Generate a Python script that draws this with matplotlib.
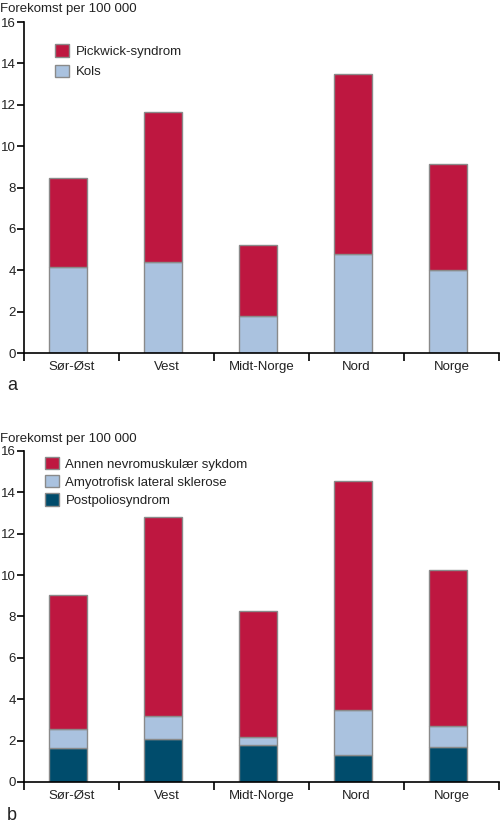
import numpy as np
import matplotlib
matplotlib.use('Agg')
import matplotlib.pyplot as plt
from matplotlib.ticker import FixedLocator

plt.rcParams['font.family'] = ['Liberation Sans', 'DejaVu Sans']
plt.rcParams['text.color'] = '#222222'

regions = ['Sør-Øst', 'Vest', 'Midt-Norge', 'Nord', 'Norge']

# panel a
kols = [4.15, 4.4, 1.8, 4.8, 4.0]
pickwick_total = [8.45, 11.65, 5.2, 13.5, 9.15]
pickwick = [t - k for t, k in zip(pickwick_total, kols)]

# panel b
postpolio = [1.65, 2.1, 1.8, 1.3, 1.7]
als_top = [2.55, 3.2, 2.15, 3.5, 2.7]
annen_total = [9.05, 12.8, 8.25, 14.55, 10.25]
als = [a - p for a, p in zip(als_top, postpolio)]
annen = [t - a for t, a in zip(annen_total, als_top)]

RED = '#BE1740'
LIGHT = '#AAC2DF'
DARK = '#004C6C'
EDGE = '#8a8a8a'

fig = plt.figure(figsize=(5, 8.24), dpi=100)
ax_a = fig.add_axes([0.048, 0.5716, 0.95, 0.4017])
ax_b = fig.add_axes([0.048, 0.051, 0.95, 0.4017])

x = np.arange(len(regions))
w = 0.4


def style(ax):
    ax.set_xlim(-0.5, len(regions) - 0.5)
    ax.set_ylim(0, 16)
    ax.set_yticks(range(0, 17, 2))
    ax.spines['top'].set_visible(False)
    ax.spines['right'].set_visible(False)
    ax.spines['left'].set_linewidth(1.2)
    ax.spines['bottom'].set_linewidth(1.2)
    ax.set_xticks(x)
    ax.set_xticklabels(regions, fontsize=9.5, color='#222222')
    ax.tick_params(axis='x', which='major', length=0, pad=6)
    ax.xaxis.set_minor_locator(FixedLocator(np.arange(-0.5, len(regions), 1)))
    ax.tick_params(axis='x', which='minor', length=6, width=1.2, direction='out')
    ax.tick_params(axis='y', length=5, width=1.2, pad=1, labelsize=9.5,
                   labelcolor='#222222')


bx = x - 0.04
ax_a.bar(bx, kols, w, color=LIGHT, edgecolor=EDGE, linewidth=1, label='Kols')
ax_a.bar(bx, pickwick, w, bottom=kols, color=RED, edgecolor=EDGE, linewidth=1,
         label='Pickwick-syndrom')
style(ax_a)
h, l = ax_a.get_legend_handles_labels()
ax_a.legend(h[::-1], l[::-1], loc='upper left', bbox_to_anchor=(0.055, 0.948),
            frameon=False, fontsize=9.5, handlelength=1.05, handleheight=1.05,
            handletextpad=0.5, labelspacing=0.5, borderaxespad=0)

ax_b.bar(bx, postpolio, w, color=DARK, edgecolor=EDGE, linewidth=1,
         label='Postpoliosyndrom')
ax_b.bar(bx, als, w, bottom=postpolio, color=LIGHT, edgecolor=EDGE, linewidth=1,
         label='Amyotrofisk lateral sklerose')
ax_b.bar(bx, annen, w, bottom=als_top, color=RED, edgecolor=EDGE, linewidth=1,
         label='Annen nevromuskulær sykdom')
style(ax_b)
h, l = ax_b.get_legend_handles_labels()
ax_b.legend(h[::-1], l[::-1], loc='upper left', bbox_to_anchor=(0.033, 0.998),
            frameon=False, fontsize=9.5, handlelength=1.05, handleheight=1.05,
            handletextpad=0.5, labelspacing=0.35, borderaxespad=0)

fig.text(0.0, 1 - 9 / 824, 'Forekomst per 100 000', fontsize=9.5, va='center', ha='left')
fig.text(0.0, 1 - 439 / 824, 'Forekomst per 100 000', fontsize=9.5, va='center', ha='left')
fig.text(0.014, 1 - 386 / 824, 'a', fontsize=13, va='center', ha='left')
fig.text(0.014, 1 - 815 / 824, 'b', fontsize=13, va='center', ha='left')

fig.savefig('out.png', dpi=100)
